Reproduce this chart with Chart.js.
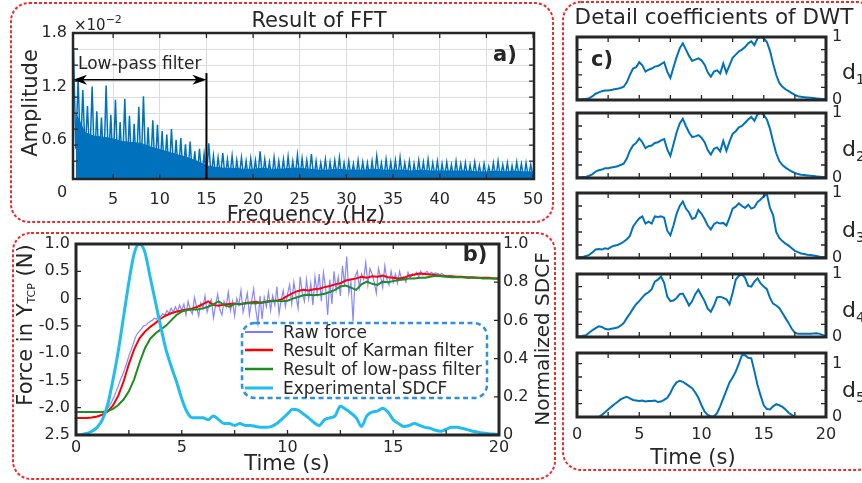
<!DOCTYPE html>
<html lang="en">
<head>
<meta charset="utf-8">
<title>Result of FFT / Detail coefficients of DWT</title>
<script src="https://cdn.jsdelivr.net/npm/chart.js@4.4.1/dist/chart.umd.min.js"></script>
<style>
  body { margin: 0; background: #fff; }
  #figura { position: relative; width: 862px; height: 483px; overflow: hidden; font-family: "DejaVu Sans", sans-serif; color: #262626; }
  #figura canvas, #figura svg { position: absolute; left: 0; top: 0; }
  .t { position: absolute; white-space: nowrap; line-height: 1; transform: translate(-50%, -50%); }
  .izq { transform: translate(0, -50%); }
  .vert { transform: translate(-50%, -50%) rotate(-90deg); }
  .eje { font-size: 21px; }
  .neg { font-size: 21px; font-weight: bold; }
  .ley { font-size: 17px; }
  .dd { font-size: 22px; }
  .dd span { font-size: 14px; position: relative; top: 5px; }
</style>
</head>
<body>
<div id="figura">
  <canvas id="graficaFFT" width="862" height="483"></canvas>
  <canvas id="graficaFuerza" width="862" height="483"></canvas>
  <canvas id="graficaD1" width="862" height="483"></canvas>
  <canvas id="graficaD2" width="862" height="483"></canvas>
  <canvas id="graficaD3" width="862" height="483"></canvas>
  <canvas id="graficaD4" width="862" height="483"></canvas>
  <canvas id="graficaD5" width="862" height="483"></canvas>

  <!-- Marcos punteados y leyenda -->
  <svg width="862" height="483">
    <g fill="none" stroke="#ee2b2b" stroke-width="2" stroke-dasharray="3 2">
      <rect x="11" y="3" width="542" height="219" rx="18"/>
      <rect x="13" y="233" width="542" height="246" rx="18"/>
      <rect x="563" y="2" width="312" height="468" rx="18"/>
    </g>
    <rect x="242" y="323" width="245" height="75" rx="13" fill="none" stroke="#2b90e6" stroke-width="2.5" stroke-dasharray="5 3.5"/>
    <line x1="245" y1="332" x2="273" y2="332" stroke="#7878ff" stroke-width="2"/>
    <line x1="245" y1="350" x2="273" y2="350" stroke="#ff0000" stroke-width="2.5"/>
    <line x1="245" y1="369" x2="273" y2="369" stroke="#1e8c1e" stroke-width="2.5"/>
    <line x1="245" y1="388" x2="273" y2="388" stroke="#21bdee" stroke-width="3"/>
  </svg>

  <div class="t izq" style="left:74px;top:25px;font-size:15px;">×10<span style="font-size:11px;position:relative;top:-7px;">−2</span></div>
  <div class="t eje" style="left:319px;top:20px;">Result of FFT</div>
  <div class="t neg" style="left:505px;top:54px;">a)</div>
  <div class="t izq" style="left:78px;top:63px;font-size:17px;">Low-pass filter</div>
  <div class="t" style="left:62px;top:192px;font-size:16px;">0</div>
  <div class="t eje vert" style="left:30px;top:103px;">Amplitude</div>
  <div class="t eje" style="left:306px;top:214px;">Frequency (Hz)</div>

  <div class="t neg" style="left:475px;top:254px;">b)</div>
  <div class="t eje vert" style="left:25px;top:325px;">Force in Y<span style="font-size:11px;position:relative;top:3px;">TCP</span> (N)</div>
  <div class="t vert" style="left:542px;top:339px;font-size:20px;">Normalized SDCF</div>
  <div class="t eje" style="left:287px;top:463px;">Time (s)</div>
  <div class="t izq ley" style="left:283px;top:332px;">Raw force</div>
  <div class="t izq ley" style="left:283px;top:350px;">Result of Karman filter</div>
  <div class="t izq ley" style="left:283px;top:369px;">Result of low-pass filter</div>
  <div class="t izq ley" style="left:283px;top:388px;">Experimental SDCF</div>

  <div class="t" style="left:714px;top:17px;font-size:21.5px;">Detail coefficients of DWT</div>
  <div class="t neg" style="left:602px;top:59px;">c)</div>
  <div class="t izq dd" style="left:842px;top:72px;">d<span>1</span></div>
  <div class="t izq dd" style="left:842px;top:149px;">d<span>2</span></div>
  <div class="t izq dd" style="left:842px;top:230px;">d<span>3</span></div>
  <div class="t izq dd" style="left:842px;top:310px;">d<span>4</span></div>
  <div class="t izq dd" style="left:842px;top:390px;">d<span>5</span></div>
  <div class="t eje" style="left:693px;top:457px;">Time (s)</div>
</div>

<script>
//Fuentes por defecto
Chart.defaults.font.family = '"DejaVu Sans", sans-serif';
Chart.defaults.font.size = 16;
Chart.defaults.color = '#262626';

const ANCHO = 862, ALTO = 483;

//Espectro FFT (amplitud x10^-2), picos y valles alternados cada 0.25 Hz
const fftInicio = 0.75;
const fftPicos = [
  1.63, 1.29, 1.16, 0.98, 1.20, 0.92, 0.85, 1.21, 0.88, 1.05,
  0.80, 1.06, 0.87, 0.78, 0.97, 1.09, 0.74, 0.82, 0.77, 0.70,
  0.66, 0.72, 0.60, 0.62, 0.55, 0.58, 0.47, 0.50, 0.44, 0.56,
  0.42, 0.40, 0.45, 0.38, 0.42, 0.37, 0.40, 0.36, 0.39, 0.37,
  0.47, 0.38, 0.35, 0.40, 0.36, 0.38, 0.41, 0.36, 0.43, 0.39,
  0.37, 0.44, 0.36, 0.34, 0.38, 0.35, 0.37, 0.40, 0.34, 0.36,
  0.33, 0.37, 0.35, 0.34, 0.36, 0.42, 0.34, 0.38, 0.35, 0.37,
  0.40, 0.34, 0.36, 0.33, 0.37, 0.35, 0.38, 0.34, 0.36, 0.33,
  0.35, 0.32, 0.36, 0.33, 0.34, 0.32, 0.35, 0.31, 0.33, 0.30,
  0.34, 0.36, 0.32, 0.34, 0.31, 0.35, 0.33, 0.34, 0.32
];
const fftValles = [
  0.50, 0.42, 0.45, 0.35, 0.30, 0.33, 0.27, 0.30, 0.25, 0.28,
  0.24, 0.27, 0.22, 0.26, 0.23, 0.25, 0.22, 0.24, 0.21, 0.23,
  0.20, 0.22, 0.19, 0.21, 0.18, 0.20, 0.18, 0.19, 0.17, 0.18,
  0.17, 0.19, 0.17, 0.18, 0.16, 0.18, 0.17, 0.16, 0.18, 0.17,
  0.17, 0.18, 0.16, 0.17, 0.18, 0.16, 0.17, 0.18, 0.16, 0.17,
  0.18, 0.16, 0.17, 0.19, 0.16, 0.17, 0.18, 0.16, 0.17, 0.18,
  0.16, 0.17, 0.18, 0.16, 0.17, 0.19, 0.16, 0.18, 0.17, 0.16,
  0.17, 0.18, 0.16, 0.17, 0.18, 0.16, 0.17, 0.18, 0.16, 0.17,
  0.18, 0.16, 0.17, 0.18, 0.16, 0.17, 0.18, 0.16, 0.17, 0.18,
  0.16, 0.17, 0.18, 0.16, 0.17, 0.18, 0.16, 0.17, 0.18
];
//Nivel de la banda densa del espectro, cada 1 Hz (1..50 Hz)
const fftNucleo = [
  0.90, 0.68, 0.64, 0.63, 0.61, 0.58, 0.57, 0.56, 0.52, 0.49,
  0.46, 0.43, 0.40, 0.36, 0.31, 0.29, 0.28, 0.28, 0.27, 0.27,
  0.28, 0.27, 0.27, 0.28, 0.28, 0.27, 0.26, 0.26, 0.27, 0.26,
  0.26, 0.26, 0.27, 0.26, 0.26, 0.26, 0.25, 0.26, 0.25, 0.25,
  0.25, 0.25, 0.25, 0.24, 0.24, 0.25, 0.24, 0.25, 0.24, 0.24
];
const fftTicksX = [5, 10, 15, 20, 25, 30, 35, 40, 45, 50];
const fftRejillaY = [0.36, 0.54, 0.72, 0.9, 1.08, 1.26, 1.44, 1.62];
const fftEtiquetasY = [0.6, 1.2, 1.8];
const corteFiltro = 15;     // Hz
const nivelFlecha = 1.275;
const alturaCorte = 1.35;

//Fuerza en Y_TCP (N), muestreo 0.1 s
const fuerzaCruda = [
  -2.19, -2.19, -2.18, -2.19, -2.19, -2.18, -2.19, -2.18, -2.17, -2.17,
  -2.16, -2.15, -2.13, -2.10, -2.06, -2.01, -1.95, -1.88, -1.80, -1.70,
  -1.60, -1.49, -1.40, -1.30, -1.18, -1.05, -0.95, -0.84, -0.72, -0.64,
  -0.60, -0.55, -0.50, -0.49, -0.45, -0.42, -0.40, -0.36, -0.38, -0.31,
  -0.33, -0.28, -0.30, -0.22, -0.27, -0.18, -0.25, -0.15, -0.24, -0.12,
  -0.22, -0.10, -0.30, -0.05, -0.20, -0.28, 0.02, -0.15, -0.32, -0.08,
  -0.18, 0.05, -0.25, -0.10, -0.02, -0.35, -0.12, 0.08, -0.20, -0.30,
  -0.05, -0.15, 0.12, -0.22, -0.05, -0.32, 0.00, -0.12, 0.15, -0.25,
  -0.08, 0.10, -0.30, -0.05, 0.18, -0.20, -0.46, 0.05, -0.38, 0.02,
  -0.15, 0.12, -0.22, 0.05, -0.12, 0.22, -0.28, -0.02, 0.15, -0.15,
  0.08, 0.25, -0.10, 0.30, 0.05, -0.18, 0.40, 0.10, -0.05, 0.35,
  0.00, 0.28, -0.12, 0.40, 0.10, 0.45, -0.05, 0.48, 0.20, -0.30,
  0.35, -0.10, 0.50, 0.15, 0.40, 0.05, 0.60, 0.25, 0.77, 0.10,
  0.30, -0.42, 0.40, 0.50, 0.20, 0.45, 0.35, 0.66, 0.25, 0.55,
  0.45, 0.30, 0.10, 0.55, 0.40, 0.20, 0.60, 0.35, 0.25, 0.50,
  0.30, 0.45, 0.28, 0.50, 0.35, 0.40, 0.30, 0.48, 0.38, 0.45,
  0.42, 0.48, 0.40, 0.50, 0.43, 0.47, 0.50, 0.44, 0.48, 0.45,
  0.47, 0.46, 0.44, 0.46, 0.43, 0.42, 0.42, 0.41, 0.41, 0.40,
  0.40, 0.40, 0.39, 0.39, 0.39, 0.38, 0.38, 0.38, 0.38, 0.38,
  0.37, 0.37, 0.37, 0.37, 0.37, 0.37, 0.37, 0.37, 0.37, 0.36,
  0.36
];

//Filtros y SDCF, muestreo 0.25 s
const fuerzaKarman = [
  -2.19, -2.19, -2.19, -2.18,  -2.16, -2.13, -2.07, -1.96,
  -1.78, -1.52, -1.20, -0.93,  -0.73, -0.61, -0.52, -0.45,
  -0.37, -0.31, -0.27, -0.24,  -0.22, -0.20, -0.18, -0.15,
  -0.10, -0.05, -0.12, -0.13,  -0.11, -0.10, -0.09, -0.11,
  -0.08, -0.07, -0.06, -0.08,  -0.06, -0.04, -0.04, -0.01,
  0.05, 0.10, 0.14, 0.16,      0.15, 0.17, 0.18, 0.21,
  0.23, 0.26, 0.28, 0.33,      0.35, 0.37, 0.40, 0.38,
  0.41, 0.40, 0.42, 0.39,      0.38, 0.37, 0.38, 0.42,
  0.44, 0.46, 0.45, 0.44,      0.43, 0.42, 0.41, 0.41,
  0.40, 0.40, 0.39, 0.39,      0.38, 0.38, 0.38, 0.37,
  0.37
];
const fuerzaPasaBajas = [
  -2.08, -2.08, -2.08, -2.08,  -2.08, -2.08, -2.06, -2.02,
  -1.95, -1.85, -1.70, -1.48,  -1.18, -0.92, -0.74, -0.64,
  -0.57, -0.50, -0.40, -0.30,  -0.24, -0.21, -0.20, -0.20,
  -0.18, -0.15, -0.10, -0.05,  -0.12, -0.15, -0.10, -0.10,
  -0.09, -0.08, -0.09, -0.07,  -0.06, -0.05, -0.04, -0.05,
  -0.04, 0.00, 0.03, 0.06,     0.07, 0.06, 0.07, 0.09,
  0.12, 0.16, 0.22, 0.24,      0.20, 0.16, 0.26, 0.31,
  0.27, 0.25, 0.31, 0.30,      0.32, 0.34, 0.35, 0.37,
  0.37, 0.38, 0.38, 0.40,      0.42, 0.41, 0.40, 0.39,
  0.39, 0.39, 0.38, 0.38,      0.38, 0.37, 0.37, 0.37,
  0.37
];
const sdcfExperimental = [
  0.000, 0.002, 0.008, 0.020,  0.04, 0.08, 0.16, 0.29,
  0.44, 0.62, 0.80, 0.95,      1.00, 0.96, 0.83, 0.70,
  0.57, 0.45, 0.36, 0.28,      0.19, 0.12, 0.09, 0.09,
  0.09, 0.08, 0.10, 0.08,      0.06, 0.06, 0.05, 0.06,
  0.05, 0.05, 0.045, 0.04,     0.04, 0.045, 0.06, 0.085,
  0.11, 0.135, 0.13, 0.11,     0.09, 0.065, 0.05, 0.08,
  0.09, 0.10, 0.15, 0.135,     0.115, 0.09, 0.045, 0.10,
  0.12, 0.125, 0.14, 0.12,     0.08, 0.06, 0.045, 0.05,
  0.06, 0.05, 0.04, 0.035,     0.025, 0.02, 0.03, 0.04,
  0.04, 0.035, 0.028, 0.02,    0.015, 0.01, 0.007, 0.005,
  0.003
];
const fuerzaTicks = [-2.5, -2, -1.5, -1, -0.5, 0, 0.5, 1];
const fuerzaEtiquetas = ['2.5', '-2.0', '-1.5', '-1.0', '-0.5', '0', '0.5', '1.0'];
const sdcfTicks = [0, 0.2, 0.4, 0.6, 0.8, 1];
const sdcfEtiquetas = ['0', '0.2', '0.4', '0.6', '0.8', '1.0'];
const tiempoEtiquetas = [0, 5, 10, 15, 20];
const tiempoMarcas = [2.5, 5, 7.5, 10, 12.5, 15, 17.5];

//Coeficientes de detalle DWT (normalizados), muestreo 0.25 s
const d1 = [
  0.01, 0.01, 0.015, 0.02,  0.03, 0.06, 0.10, 0.12,  0.14, 0.15, 0.15, 0.16,  0.17, 0.18, 0.19, 0.21,
  0.28, 0.40, 0.50, 0.52,   0.60, 0.55, 0.45, 0.48,  0.50, 0.53, 0.54, 0.57,  0.60, 0.45, 0.35, 0.52,
  0.68, 0.82, 0.90, 0.80,   0.70, 0.62, 0.64, 0.66,  0.63, 0.56, 0.44, 0.37,  0.45, 0.47, 0.42, 0.58,
  0.43, 0.55, 0.67, 0.72,   0.77, 0.80, 0.84, 0.90,  0.93, 0.87, 0.98, 1.00,  0.98, 0.92, 0.78, 0.58,
  0.40, 0.27, 0.21, 0.17,   0.14, 0.11, 0.08, 0.06,  0.05, 0.045, 0.04, 0.035, 0.03, 0.025, 0.02, 0.015,
  0.01
];
const d2 = [
  0.01, 0.01, 0.015, 0.02,  0.035, 0.06, 0.10, 0.12, 0.13, 0.15, 0.15, 0.16,  0.17, 0.18, 0.20, 0.22,
  0.30, 0.42, 0.50, 0.54,   0.61, 0.55, 0.46, 0.49,  0.50, 0.54, 0.55, 0.58,  0.60, 0.44, 0.34, 0.52,
  0.70, 0.84, 0.91, 0.80,   0.70, 0.63, 0.64, 0.66,  0.62, 0.55, 0.43, 0.36,  0.45, 0.47, 0.41, 0.57,
  0.42, 0.56, 0.68, 0.72,   0.78, 0.80, 0.85, 0.90,  0.94, 0.88, 0.98, 1.00,  0.97, 0.90, 0.76, 0.56,
  0.38, 0.26, 0.20, 0.16,   0.13, 0.10, 0.08, 0.06,  0.05, 0.045, 0.04, 0.035, 0.03, 0.025, 0.02, 0.015,
  0.01
];
const d3 = [
  0.01, 0.015, 0.02, 0.03,  0.05, 0.09, 0.13, 0.14,  0.13, 0.15, 0.14, 0.17,  0.19, 0.20, 0.22, 0.25,
  0.29, 0.34, 0.48, 0.55,   0.61, 0.64, 0.53, 0.56,  0.53, 0.64, 0.63, 0.64,  0.62, 0.42, 0.35, 0.50,
  0.68, 0.80, 0.87, 0.76,   0.70, 0.60, 0.62, 0.74,  0.68, 0.60, 0.50, 0.44,  0.52, 0.55, 0.53, 0.54,
  0.50, 0.62, 0.76, 0.79,   0.84, 0.80, 0.77, 0.82,  0.76, 0.78, 0.86, 0.90,  0.95, 0.98, 0.77, 0.66,
  0.40, 0.31, 0.26, 0.22,   0.19, 0.15, 0.11, 0.09,  0.07, 0.06, 0.05, 0.045, 0.04, 0.03, 0.02, 0.015,
  0.01
];
const d4 = [
  0.01, 0.01, 0.02, 0.03,   0.07, 0.11, 0.14, 0.17,  0.16, 0.13, 0.12, 0.13,  0.14, 0.15, 0.18, 0.22,
  0.30, 0.37, 0.45, 0.52,   0.57, 0.63, 0.68, 0.71,  0.76, 0.88, 0.91, 0.96,  0.86, 0.64, 0.57, 0.58,
  0.62, 0.68, 0.69, 0.60,   0.50, 0.57, 0.68, 0.75,  0.66, 0.57, 0.45, 0.40,  0.50, 0.63, 0.64, 0.62,
  0.60, 0.52, 0.70, 0.91,   0.97, 1.00, 0.94, 0.81,  0.80, 0.88, 0.93, 0.85,  0.80, 0.76, 0.62, 0.53,
  0.50, 0.46, 0.38, 0.30,   0.22, 0.13, 0.07, 0.05,  0.05, 0.05, 0.05, 0.05,  0.055, 0.06, 0.05, 0.03,
  0.01
];
const d5 = [
  null, null, null, null,   null, null, null, 0.00,  0.04, 0.09, 0.14, 0.19,  0.24, 0.28, 0.33, 0.36,
  0.38, 0.35, 0.32, 0.31,   0.30, 0.31, 0.29, 0.30,  0.30, 0.31, 0.28, 0.29,  0.32, 0.36, 0.45, 0.57,
  0.65, 0.68, 0.66, 0.62,   0.58, 0.54, 0.46, 0.36,  0.22, 0.10, 0.04, 0.01,  0.01, 0.07, 0.20, 0.35,
  0.50, 0.65, 0.74, 0.85,   1.00, 1.16, 1.16, 1.11,  1.10, 0.86, 0.60, 0.40,  0.22, 0.15, 0.14, 0.20,
  0.24, 0.22, 0.19, 0.14,   0.08, 0.04, 0.00, null,  null, null, null, null,  null, null, null, null,
  null
];

//Rejillas de tiempo (muestreo)
const tiempoCrudo = Array.from({length: fuerzaCruda.length}, (_, i) => i * 0.1);
const tiempoFiltro = Array.from({length: fuerzaKarman.length}, (_, i) => i * 0.25);

//Cajas de cada grafica (area de trazado en pixeles)
const cajaFFT = {left: 73, top: 33, right: 534, bottom: 179};
const cajaFuerza = {left: 76, top: 244, right: 499, bottom: 435};
const cajasDWT = [
  {left: 577, top: 37, right: 826, bottom: 100},
  {left: 577, top: 113, right: 826, bottom: 178},
  {left: 577, top: 193, right: 826, bottom: 258},
  {left: 577, top: 274, right: 826, bottom: 337},
  {left: 577, top: 353, right: 826, bottom: 417}
];

//Funciones auxiliares
function puntos(tiempos, valores) {
  return valores.map((v, i) => ({x: tiempos[i], y: v}));
}
function rellenoDe(caja, lados) {
  return {
    left: lados.includes('left') ? 0 : caja.left,
    right: lados.includes('right') ? 0 : ANCHO - caja.right,
    top: caja.top,
    bottom: lados.includes('bottom') ? 0 : ALTO - caja.bottom
  };
}
function ajustarEje(caja) {
  return function (eje) {
    if (eje.options.display === false) return;
    const pos = eje.options.position;
    if (pos === 'left') eje.width = caja.left;
    if (pos === 'right') eje.width = ANCHO - caja.right;
    if (pos === 'bottom') eje.height = ALTO - caja.bottom;
    eje.paddingLeft = 0; eje.paddingRight = 0; eje.paddingTop = 0; eje.paddingBottom = 0;
  };
}
function fijarTicks(valores) {
  return function (eje) { eje.ticks = valores.map(v => ({value: v})); };
}

//Plugin: marco tipo MATLAB con marcas hacia adentro
const marcoPlugin = {
  id: 'marco',
  afterDatasetsDraw(chart, args, opts) {
    const {ctx, chartArea: a, scales} = chart;
    const largo = 5;
    ctx.save();
    ctx.strokeStyle = '#262626';
    ctx.lineWidth = 1.3;
    ctx.beginPath();
    (opts.xTicks || []).forEach(v => {
      const px = scales.x.getPixelForValue(v);
      ctx.moveTo(px, a.bottom); ctx.lineTo(px, a.bottom - largo);
      ctx.moveTo(px, a.top); ctx.lineTo(px, a.top + largo);
    });
    (opts.yTicks || []).forEach(v => {
      const py = scales.y.getPixelForValue(v);
      ctx.moveTo(a.left, py); ctx.lineTo(a.left + largo, py);
      if (!opts.y2Ticks) { ctx.moveTo(a.right, py); ctx.lineTo(a.right - largo, py); }
    });
    (opts.y2Ticks || []).forEach(v => {
      const py = scales.y2.getPixelForValue(v);
      ctx.moveTo(a.right, py); ctx.lineTo(a.right - largo, py);
    });
    ctx.stroke();
    ctx.lineWidth = opts.ancho || 2.5;
    ctx.strokeRect(a.left, a.top, a.width, a.height);
    ctx.restore();
  }
};

//Plugin: anotacion del filtro pasa bajas
function punta(ctx, x, y, dir) {
  ctx.beginPath();
  ctx.moveTo(x, y);
  ctx.lineTo(x + dir * 14, y - 5);
  ctx.lineTo(x + dir * 10, y);
  ctx.lineTo(x + dir * 14, y + 5);
  ctx.closePath();
  ctx.fill();
}
const filtroPlugin = {
  id: 'filtro',
  afterDatasetsDraw(chart) {
    const {ctx, scales: {x, y}} = chart;
    const xIni = x.getPixelForValue(x.min);
    const xCorte = x.getPixelForValue(corteFiltro);
    const yFlecha = y.getPixelForValue(nivelFlecha);
    ctx.save();
    ctx.strokeStyle = '#000';
    ctx.fillStyle = '#000';
    ctx.lineWidth = 2;
    ctx.beginPath();
    ctx.moveTo(xCorte, y.getPixelForValue(y.min));
    ctx.lineTo(xCorte, y.getPixelForValue(alturaCorte));
    ctx.stroke();
    ctx.lineWidth = 1.5;
    ctx.beginPath();
    ctx.moveTo(xIni + 4, yFlecha);
    ctx.lineTo(xCorte - 4, yFlecha);
    ctx.stroke();
    punta(ctx, xIni, yFlecha, 1);
    punta(ctx, xCorte, yFlecha, -1);
    ctx.restore();
  }
};

//Serie del espectro (picos y valles alternados)
const fftPuntos = [];
fftPicos.forEach((v, i) => {
  fftPuntos.push({x: fftInicio + i * 0.5, y: v});
  fftPuntos.push({x: fftInicio + i * 0.5 + 0.25, y: fftValles[i]});
});
const fftBanda = fftNucleo.map((v, i) => ({x: i + 1, y: v}));

//Grafica a) FFT
new Chart(document.getElementById('graficaFFT'), {
  type: 'line',
  data: {
    datasets: [
      {
        data: fftPuntos,
        borderColor: '#0072BD',
        borderWidth: 1.5,
        pointRadius: 0,
        tension: 0
      },
      {
        data: fftBanda,
        borderColor: '#0072BD',
        backgroundColor: '#0072BD',
        borderWidth: 1,
        pointRadius: 0,
        fill: 'start'
      }
    ]
  },
  options: {
    responsive: false, animation: false, events: [],
    layout: {padding: rellenoDe(cajaFFT, ['left', 'bottom'])},
    plugins: {
      legend: {display: false},
      tooltip: {enabled: false},
      marco: {xTicks: fftTicksX, yTicks: fftRejillaY, ancho: 2.5}
    },
    scales: {
      x: {
        type: 'linear', min: 0.7, max: 50.1,
        afterFit: ajustarEje(cajaFFT),
        afterBuildTicks: fijarTicks(fftTicksX),
        grid: {color: '#dcdcdc', drawTicks: false},
        border: {display: false},
        ticks: {padding: 11, maxRotation: 0, autoSkip: false}
      },
      y: {
        type: 'linear', min: 0.16, max: 1.8,
        afterFit: ajustarEje(cajaFFT),
        afterBuildTicks: fijarTicks(fftRejillaY.concat([0.6, 1.2, 1.8])),
        grid: {
          color: c => fftEtiquetasY.includes(c.tick.value) ? 'rgba(0,0,0,0)' : '#dcdcdc',
          drawTicks: false
        },
        border: {display: false},
        ticks: {
          padding: 6, autoSkip: false,
          callback: v => fftEtiquetasY.includes(v) ? v.toFixed(1) : ''
        }
      }
    }
  },
  plugins: [marcoPlugin, filtroPlugin]
});

//Grafica b) fuerza y SDCF
new Chart(document.getElementById('graficaFuerza'), {
  type: 'line',
  data: {
    datasets: [
      {label: 'Experimental SDCF', data: puntos(tiempoFiltro, sdcfExperimental), yAxisID: 'y2',
       borderColor: '#21bdee', borderWidth: 3, pointRadius: 0, tension: 0.4, cubicInterpolationMode: 'monotone'},
      {label: 'Result of low-pass filter', data: puntos(tiempoFiltro, fuerzaPasaBajas), yAxisID: 'y',
       borderColor: '#1e8c1e', borderWidth: 2, pointRadius: 0},
      {label: 'Result of Karman filter', data: puntos(tiempoFiltro, fuerzaKarman), yAxisID: 'y',
       borderColor: '#ff0000', borderWidth: 2, pointRadius: 0},
      {label: 'Raw force', data: puntos(tiempoCrudo, fuerzaCruda), yAxisID: 'y',
       borderColor: 'rgba(105,105,255,0.8)', borderWidth: 1.2, pointRadius: 0}
    ]
  },
  options: {
    responsive: false, animation: false, events: [],
    layout: {padding: rellenoDe(cajaFuerza, ['left', 'right', 'bottom'])},
    plugins: {
      legend: {display: false},
      tooltip: {enabled: false},
      marco: {xTicks: tiempoMarcas, yTicks: [-2, -1.5, -1, -0.5, 0, 0.5], y2Ticks: [0.2, 0.4, 0.6, 0.8], ancho: 3}
    },
    scales: {
      x: {
        type: 'linear', min: 0, max: 20,
        afterFit: ajustarEje(cajaFuerza),
        afterBuildTicks: fijarTicks(tiempoEtiquetas),
        grid: {display: false, drawTicks: false},
        border: {display: false},
        ticks: {padding: 3, maxRotation: 0, autoSkip: false}
      },
      y: {
        type: 'linear', position: 'left', min: -2.5, max: 1,
        afterFit: ajustarEje(cajaFuerza),
        afterBuildTicks: fijarTicks(fuerzaTicks),
        grid: {display: false, drawTicks: false},
        border: {display: false},
        ticks: {padding: 6, autoSkip: false, callback: (v, i) => fuerzaEtiquetas[i]}
      },
      y2: {
        type: 'linear', axis: 'y', position: 'right', min: 0, max: 1,
        afterFit: ajustarEje(cajaFuerza),
        afterBuildTicks: fijarTicks(sdcfTicks),
        grid: {display: false, drawTicks: false},
        border: {display: false},
        ticks: {padding: 4, autoSkip: false, callback: (v, i) => sdcfEtiquetas[i]}
      }
    }
  },
  plugins: [marcoPlugin]
});

//Graficas c) coeficientes de detalle
function crearDetalle(id, caja, valores, maxY, marcasY, conTiempo) {
  return new Chart(document.getElementById(id), {
    type: 'line',
    data: {
      datasets: [{
        data: puntos(tiempoFiltro, valores),
        borderColor: '#0072BD',
        borderWidth: 2,
        pointRadius: 0,
        spanGaps: false
      }]
    },
    options: {
      responsive: false, animation: false, events: [],
      layout: {padding: rellenoDe(caja, conTiempo ? ['right', 'bottom'] : ['right'])},
      plugins: {
        legend: {display: false},
        tooltip: {enabled: false},
        marco: {xTicks: tiempoMarcas, yTicks: marcasY, ancho: 3}
      },
      scales: {
        x: {
          type: 'linear', min: 0, max: 20, display: conTiempo,
          afterFit: ajustarEje(caja),
          afterBuildTicks: fijarTicks(tiempoEtiquetas),
          grid: {display: false, drawTicks: false},
          border: {display: false},
          ticks: {padding: 8, maxRotation: 0, autoSkip: false}
        },
        y: {
          type: 'linear', position: 'right', min: 0, max: maxY,
          afterFit: ajustarEje(caja),
          afterBuildTicks: fijarTicks([0, 1]),
          grid: {display: false, drawTicks: false},
          border: {display: false},
          ticks: {padding: 6, autoSkip: false}
        }
      }
    },
    plugins: [marcoPlugin]
  });
}

const marcasDWT = [0.2, 0.4, 0.6, 0.8];
crearDetalle('graficaD1', cajasDWT[0], d1, 1, marcasDWT, false);
crearDetalle('graficaD2', cajasDWT[1], d2, 1, marcasDWT, false);
crearDetalle('graficaD3', cajasDWT[2], d3, 1, marcasDWT, false);
crearDetalle('graficaD4', cajasDWT[3], d4, 1, marcasDWT, false);
crearDetalle('graficaD5', cajasDWT[4], d5, 1.2, [0.25, 0.5, 0.75, 1], true);
</script>
</body>
</html>
